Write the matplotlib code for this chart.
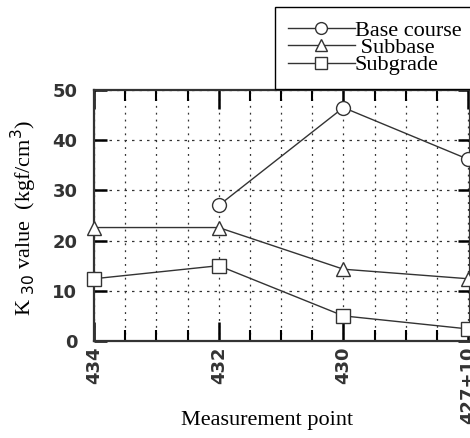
import matplotlib.pyplot as plt
from matplotlib.ticker import MultipleLocator

# measurement points along the road and K30 readings per layer
points = ["434", "432", "430", "427+10"]
base_x = [1, 2, 3]
base_course = [27.0, 46.5, 36.2]
subbase = [22.6, 22.6, 14.3, 12.4]
subgrade = [12.4, 15.0, 5.0, 2.4]

plt.rcParams["font.family"] = ["DejaVu Sans"]

fig = plt.figure(figsize=(4.7, 4.38), dpi=100)
ax = fig.add_axes([0.200, 0.2215, 0.80, 0.573])

style = dict(color="#333333", lw=1.0, markersize=10, markerfacecolor="white",
             markeredgecolor="#333333", markeredgewidth=1.0, clip_on=False, zorder=3)
l1, = ax.plot(base_x, base_course, marker="o", label="Base course", **style)
l2, = ax.plot(range(4), subbase, marker="^", label=" Subbase", **style)
l3, = ax.plot(range(4), subgrade, marker="s", label="Subgrade", **style)

ax.set_xlim(0, 3.015)
ax.set_ylim(0, 50)
ax.set_xticks(range(4))
ax.set_xticklabels(points, rotation=90, fontsize=13, fontweight="bold", color="#333333")
ax.xaxis.set_minor_locator(MultipleLocator(0.25))
ax.set_yticks([0, 10, 20, 30, 40, 50])
ax.set_yticklabels(["0", "10", "20", "30", "40", "50"], fontsize=13,
                   fontweight="bold", color="#333333")

ax.tick_params(axis="x", which="major", direction="in", length=14, width=1.8,
               top=True, pad=4)
ax.tick_params(axis="x", which="minor", direction="in", length=8, width=1.5, top=True)
ax.tick_params(axis="y", direction="in", length=9, width=1.8, right=True, pad=12)

# dotted grid
ax.grid(True, which="both", axis="x", linestyle=(0, (1.5, 4)), color="#333333", lw=0.9)
ax.grid(True, which="major", axis="y", linestyle=(0, (2, 4)), color="#333333", lw=0.9)
for s in ax.spines.values():
    s.set_linewidth(1.6)
    s.set_color("#333333")

fig.text(0.568, 0.041, "Measurement point", family="Liberation Serif", fontsize=16,
         ha="center", va="center")
fig.text(0.05, 0.502, r"K$_{\ 30}$ value  (kgf/cm$^3$)", family="Liberation Serif",
         fontsize=16, rotation=90, ha="center", va="center")

leg = fig.legend(handles=[l1, l2, l3], loc="upper right", bbox_to_anchor=(1.01, 0.984),
                 prop={"family": "Liberation Serif", "size": 16}, frameon=True,
                 fancybox=False, framealpha=1, edgecolor="black", handlelength=3.0,
                 handletextpad=0.0, labelspacing=-0.15, borderpad=0.6, borderaxespad=0,
                 markerscale=0.85)
leg.get_frame().set_linewidth(1.0)

fig.savefig("out.png", dpi=100)
